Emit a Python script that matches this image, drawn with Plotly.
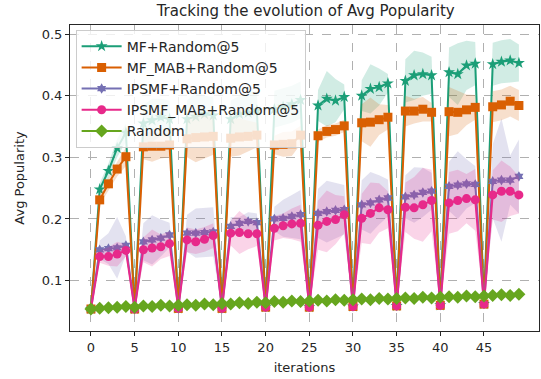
import plotly.graph_objects as go

iterations = list(range(50))

mf_random = [0.054, 0.248, 0.278, 0.315, 0.340,
             0.054, 0.355, 0.360, 0.365, 0.362,
             0.055, 0.362, 0.366, 0.370, 0.368,
             0.055, 0.362, 0.370, 0.372, 0.376,
             0.057, 0.378, 0.382, 0.386, 0.393,
             0.057, 0.384, 0.395, 0.392, 0.398,
             0.058, 0.400, 0.411, 0.414, 0.420,
             0.059, 0.424, 0.433, 0.435, 0.433,
             0.060, 0.438, 0.435, 0.449, 0.452,
             0.062, 0.451, 0.455, 0.457, 0.453]
mf_random_std = [0, 0.010, 0.012, 0.015, 0.015, 0, 0.030, 0.035, 0.030, 0.030,
                 0, 0.030, 0.040, 0.030, 0.030, 0, 0.030, 0.030, 0.035, 0.030,
                 0, 0.030, 0.030, 0.030, 0.030, 0, 0.025, 0.045, 0.035, 0.020,
                 0, 0.025, 0.040, 0.030, 0.015, 0, 0.035, 0.040, 0.035, 0.030,
                 0, 0.040, 0.050, 0.040, 0.035, 0, 0.035, 0.035, 0.035, 0.030]

mf_mab_random = [0.054, 0.231, 0.257, 0.281, 0.301,
                 0.054, 0.317, 0.318, 0.318, 0.320,
                 0.055, 0.330, 0.332, 0.333, 0.334,
                 0.055, 0.331, 0.333, 0.334, 0.336,
                 0.057, 0.320, 0.321, 0.322, 0.336,
                 0.057, 0.335, 0.342, 0.345, 0.351,
                 0.058, 0.356, 0.357, 0.361, 0.365,
                 0.059, 0.375, 0.375, 0.378, 0.373,
                 0.060, 0.374, 0.373, 0.377, 0.381,
                 0.062, 0.382, 0.385, 0.391, 0.384]
mf_mab_random_std = [0, 0.008, 0.010, 0.012, 0.015, 0, 0.020, 0.025, 0.020, 0.020,
                     0, 0.030, 0.040, 0.035, 0.030, 0, 0.030, 0.030, 0.025, 0.020,
                     0, 0.015, 0.020, 0.020, 0.015, 0, 0.010, 0.010, 0.010, 0.010,
                     0, 0.030, 0.040, 0.025, 0.020, 0, 0.025, 0.020, 0.020, 0.015,
                     0, 0.040, 0.035, 0.025, 0.020, 0, 0.025, 0.025, 0.025, 0.025]

ipsmf_random = [0.054, 0.150, 0.152, 0.153, 0.157,
                0.054, 0.163, 0.166, 0.169, 0.174,
                0.055, 0.177, 0.177, 0.178, 0.179,
                0.055, 0.188, 0.193, 0.196, 0.194,
                0.057, 0.200, 0.201, 0.204, 0.207,
                0.057, 0.209, 0.212, 0.214, 0.215,
                0.058, 0.223, 0.226, 0.231, 0.234,
                0.059, 0.236, 0.239, 0.243, 0.245,
                0.060, 0.253, 0.255, 0.257, 0.256,
                0.062, 0.261, 0.263, 0.263, 0.269]
ipsmf_random_std = [0, 0.015, 0.025, 0.050, 0.015, 0, 0.030, 0.040, 0.030, 0.020,
                    0, 0.030, 0.040, 0.040, 0.040, 0, 0.015, 0.010, 0.015, 0.015,
                    0, 0.020, 0.030, 0.035, 0.040, 0, 0.040, 0.050, 0.045, 0.040,
                    0, 0.040, 0.050, 0.040, 0.030, 0, 0.035, 0.045, 0.040, 0.030,
                    0, 0.040, 0.055, 0.040, 0.030, 0, 0.060, 0.100, 0.040, 0.060]

ipsmf_mab_random = [0.054, 0.139, 0.139, 0.143, 0.149,
                    0.054, 0.150, 0.153, 0.155, 0.160,
                    0.055, 0.166, 0.163, 0.167, 0.173,
                    0.055, 0.177, 0.178, 0.176, 0.176,
                    0.057, 0.185, 0.189, 0.192, 0.193,
                    0.057, 0.190, 0.196, 0.199, 0.207,
                    0.058, 0.201, 0.209, 0.218, 0.215,
                    0.059, 0.219, 0.218, 0.223, 0.230,
                    0.060, 0.226, 0.230, 0.233, 0.231,
                    0.062, 0.239, 0.245, 0.245, 0.239]
ipsmf_mab_random_std = [0, 0.010, 0.015, 0.020, 0.010, 0, 0.020, 0.030, 0.020, 0.020,
                        0, 0.020, 0.020, 0.020, 0.020, 0, 0.020, 0.035, 0.025, 0.020,
                        0, 0.020, 0.020, 0.025, 0.030, 0, 0.040, 0.050, 0.040, 0.030,
                        0, 0.040, 0.050, 0.040, 0.030, 0, 0.040, 0.050, 0.060, 0.050,
                        0, 0.050, 0.050, 0.040, 0.050, 0, 0.040, 0.050, 0.040, 0.030]

random_only = [0.054, 0.055, 0.056, 0.057, 0.058, 0.057, 0.059, 0.058, 0.060, 0.059,
               0.060, 0.061, 0.060, 0.062, 0.061, 0.063, 0.062, 0.064, 0.063, 0.065,
               0.064, 0.066, 0.065, 0.067, 0.066, 0.067, 0.068, 0.067, 0.069, 0.068,
               0.069, 0.070, 0.069, 0.071, 0.070, 0.071, 0.072, 0.071, 0.073, 0.072,
               0.073, 0.074, 0.073, 0.075, 0.074, 0.075, 0.076, 0.077, 0.076, 0.078]
random_std = [0.0] * 50

series = [
    ("MF+Random@5", mf_random, mf_random_std, "#1b9e77", "rgba(27,158,119,0.2)", "star", 9),
    ("MF_MAB+Random@5", mf_mab_random, mf_mab_random_std, "#d95f02", "rgba(217,95,2,0.2)", "square", 9),
    ("IPSMF+Random@5", ipsmf_random, ipsmf_random_std, "#7570b3", "rgba(117,112,179,0.2)", "hexagram", 8),
    ("IPSMF_MAB+Random@5", ipsmf_mab_random, ipsmf_mab_random_std, "#e7298a", "rgba(231,41,138,0.2)", "circle", 9),
    ("Random", random_only, random_std, "#66a61e", "rgba(102,166,30,0.2)", "diamond", 10),
]

fig = go.Figure()
for name, vals, std, color, fillc, sym, size in series:
    upper = [v + s for v, s in zip(vals, std)]
    lower = [v - s for v, s in zip(vals, std)]
    fig.add_trace(go.Scatter(
        x=iterations + iterations[::-1], y=upper + lower[::-1],
        fill="toself", fillcolor=fillc, line=dict(width=0),
        mode="lines", hoverinfo="skip", showlegend=False))
    fig.add_trace(go.Scatter(
        x=iterations, y=vals, name=name, mode="lines+markers",
        line=dict(color=color, width=2),
        marker=dict(symbol=sym, size=size, color=color, line=dict(width=0))))

font = "DejaVu Sans, sans-serif"
fig.update_layout(
    width=541, height=379,
    margin=dict(l=70, r=2, t=25, b=48),
    paper_bgcolor="white", plot_bgcolor="white",
    font=dict(family=font, size=13, color="#262626"),
    title=dict(text="Tracking the evolution of Avg Popularity", x=0.565, xanchor="center",
               y=0.985, yanchor="top", font=dict(size=15)),
    showlegend=True,
    legend=dict(x=0.012, y=0.985, xanchor="left", yanchor="top",
                bgcolor="rgba(255,255,255,0.8)", bordercolor="#cccccc", borderwidth=1,
                font=dict(size=14), tracegroupgap=0, itemwidth=40),
)
fig.update_xaxes(
    range=[-2.4, 51.3], tickmode="array", tickvals=list(range(0, 50, 5)),
    showgrid=True, gridcolor="#b0b0b0", griddash="dash", gridwidth=1,
    showline=True, linecolor="#262626", linewidth=1, mirror=True,
    ticks="outside", ticklen=4, tickcolor="#262626", zeroline=False,
    tickfont=dict(size=13),
    title=dict(text="iterations", standoff=9, font=dict(size=13)),
)
fig.update_yaxes(
    range=[0.0183, 0.5146], tickmode="array", tickvals=[0.1, 0.2, 0.3, 0.4, 0.5],
    ticktext=["0.1", "0.2", "0.3", "0.4", "0.5"],
    showgrid=True, gridcolor="#b0b0b0", griddash="dash", gridwidth=1,
    showline=True, linecolor="#262626", linewidth=1, mirror=True,
    ticks="outside", ticklen=4, tickcolor="#262626", zeroline=False,
    tickfont=dict(size=13),
    title=dict(text="Avg Popularity", standoff=14, font=dict(size=13)),
)

fig.write_html("out.html")
